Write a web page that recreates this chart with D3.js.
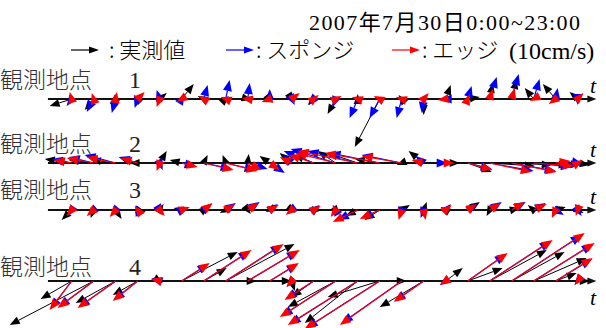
<!DOCTYPE html>
<html><head><meta charset="utf-8">
<script src="https://cdn.jsdelivr.net/npm/d3@7"></script>
<style>body{margin:0;background:#fff}svg{display:block}</style>
</head><body>
<svg id="c" width="606" height="328"></svg>
<script>
// ---- data (cm/s, u = east, v = north), hourly 0:00..23:00 ----
const hours = d3.range(24).map(h => h + ":00");
const stationNames = ["観測地点", "観測地点", "観測地点", "観測地点"];
const stationNums = ["1", "2", "3", "4"];
const seriesNames = ["実測値", "スポンジ", "エッジ"];

const s1Obs = [[-7.9,-2.5],[-3.2,-3.9],[-2.1,-1.8],[-1.4,1.4],[2.5,2.1],[4.3,5.4],[-2.1,1.1],[1.1,1.1],[1.4,-0.4],[1.1,-1.4],[0.7,-1.1],[-2.1,-2.1],[-2.9,-5.4],[0,1.8],[-8.9,-17.1],[-1.1,1.4],[0,-5.7],[1.8,5.0],[4.3,0.7],[1.1,5.7],[1.8,7.1],[-3.2,3.9],[-4.6,5.4],[-2.9,2.5]];
const s1Spg = [[-1.8,-2.5],[-2.5,-4.6],[-1.4,-5.0],[-1.1,-3.2],[-1.1,3.2],[1.1,1.8],[1.4,5.0],[1.4,6.8],[0.7,5.7],[0,3.6],[1.1,-2.1],[-1.8,-2.1],[-1.1,-2.9],[-2.9,-6.8],[-3.6,-6.8],[-1.8,-6.8],[-0.7,-5.0],[-1.8,0],[1.4,4.6],[2.5,7.9],[2.5,8.9],[2.1,7.1],[0.7,3.9],[0,-2.1]];
const s1Edg = [[-0.7,2.5],[-0.7,2.1],[0.4,2.5],[2.5,2.5],[-1.1,-2.9],[-1.8,-1.1],[-1.8,1.1],[-1.8,0.7],[-2.1,0.4],[-2.9,-1.1],[2.9,2.1],[1.8,1.4],[2.1,1.1],[-2.1,0.7],[-2.1,1.1],[-2.1,0.7],[1.8,2.1],[-2.9,-0.4],[0.7,1.8],[1.1,3.6],[1.1,3.9],[-1.4,-0.7],[-2.5,-1.8],[2.1,2.1]];

const s2Obs = [[-9.6,1.4],[-8.9,1.1],[-8.9,1.1],[-2.9,0],[2.5,4.3],[-4.3,1.1],[1.4,2.9],[-1.1,2.9],[0.4,3.2],[-3.6,2.5],[-4.3,3.6],[-7.1,2.9],[-6.4,4.3],[-10.7,3.6],[-8.9,1.4],[-1.8,-0.7],[-5.4,4.3],[5.0,0],[8.6,-3.2],[16.1,-1.1],[14.3,-0.7],[12.5,-0.7],[8.9,-0.7],[4.3,-0.7]];
const s2Spg = [[-7.1,1.4],[-8.9,2.1],[-11.1,2.9],[-6.8,2.1],[1.1,-2.5],[5.0,-1.4],[10.0,-2.1],[10.7,-2.5],[7.1,-2.1],[5.4,-3.6],[-2.9,2.9],[-10.7,4.3],[-16.1,5.0],[-17.9,4.3],[-17.9,3.6],[-14.3,2.9],[-2.9,2.5],[0.7,0],[8.6,-2.1],[15.7,-2.9],[15.7,-2.9],[13.6,-1.4],[7.1,-1.1],[1.8,-0.4]];
const s2Edg = [[-6.4,1.1],[-9.6,1.8],[-10.4,2.1],[-6.1,1.8],[-1.1,-2.9],[5.7,-1.4],[10.7,-2.5],[11.4,-2.9],[5.0,-2.5],[3.6,-2.5],[-4.3,2.1],[-8.9,2.9],[-14.3,3.6],[-21.4,4.3],[-19.6,3.6],[-14.3,2.5],[-4.3,1.1],[3.2,0],[8.9,-2.5],[15.0,-3.2],[16.1,-3.2],[14.3,-1.1],[5.4,0.7],[1.8,1.1]];

const s3Obs = [[-3.6,-3.6],[-1.1,-2.9],[2.1,-3.2],[2.9,-0.7],[1.4,2.1],[-2.9,0.7],[1.8,1.4],[-2.1,-1.1],[1.1,-1.4],[-1.4,-0.7],[1.4,-1.1],[2.9,0],[1.4,-1.8],[-4.3,-2.1],[-5.4,-3.6],[2.9,1.8],[1.1,2.9],[-1.8,1.1],[4.3,2.9],[-1.1,-2.1],[2.9,0.7],[-2.1,1.8],[3.6,1.1],[2.1,-1.1]];
const s3Spg = [[-1.4,-2.1],[-2.1,-1.8],[-1.8,-2.1],[-0.7,1.8],[1.1,-1.8],[2.1,1.1],[2.9,2.1],[3.6,2.5],[4.3,2.9],[2.9,2.1],[-1.8,-1.4],[2.1,1.8],[-1.1,1.8],[-7.1,-3.6],[-6.4,-2.9],[-0.7,-2.9],[-1.1,-2.9],[1.8,2.1],[3.6,2.1],[4.3,2.9],[5.0,2.9],[4.3,2.5],[2.9,-1.8],[1.4,-2.1]];
const s3Edg = [[-1.8,-2.1],[-2.5,-2.1],[-2.1,-2.5],[-1.1,1.4],[1.8,-2.1],[2.9,1.1],[3.2,2.5],[3.2,2.1],[3.9,2.5],[3.2,1.8],[-2.1,-1.8],[2.5,1.4],[-1.8,-2.5],[-8.9,-4.3],[-7.1,-3.2],[-1.1,-3.6],[0.7,-3.6],[2.1,1.8],[3.2,2.1],[3.9,2.5],[4.6,2.9],[4.6,2.1],[-1.4,-2.9],[-0.7,-2.1]];

const s4Obs = [[-11.1,-6.4],[-30.0,-15.7],[-14.3,-7.9],[-8.9,-5.0],[1.1,-0.7],[20.0,10.4],[8.2,4.6],[24.6,13.2],[3.2,0],[7.9,0],[1.1,-3.6],[-7.9,-5.7],[-17.1,-9.3],[-18.9,-15.0],[-18.6,-5.7],[1.8,0],[-15.7,-9.3],[6.1,4.6],[12.5,4.6],[20.4,11.1],[18.9,10.4],[18.9,8.2],[7.5,2.9],[4.3,0]];
const s4Spg = [[-7.5,-10.0],[-12.5,-9.3],[-13.2,-9.3],[-8.6,-6.8],[-2.9,1.1],[9.6,6.1],[16.4,10.7],[20.0,12.9],[17.9,10.7],[10.0,6.1],[-1.8,-2.1],[-10.0,-6.4],[-19.3,-12.5],[-24.3,-15.4],[-26.1,-16.8],[-21.4,-15.0],[-10.4,-7.1],[-2.1,-1.4],[13.6,9.6],[21.8,14.3],[25.0,16.4],[21.1,13.2],[12.9,7.9],[-1.1,-1.4]];
const s4Edg = [[-7.9,-10.4],[-12.9,-9.6],[-13.6,-9.6],[-8.9,-7.1],[-3.2,0.7],[10.0,6.4],[17.1,11.1],[20.7,13.2],[18.6,11.1],[10.4,6.4],[-1.8,-2.1],[-10.4,-6.8],[-20.0,-12.9],[-25.0,-15.7],[-26.8,-17.1],[-22.1,-15.7],[-10.7,-7.5],[-2.1,-1.4],[14.3,10.0],[22.5,14.6],[26.1,17.1],[21.8,13.6],[13.2,8.2],[-1.1,-1.4]];

const stationData = [
  [s1Obs, s1Spg, s1Edg],
  [s2Obs, s2Spg, s2Edg],
  [s3Obs, s3Spg, s3Edg],
  [s4Obs, s4Spg, s4Edg]
];
const refSpeed = 10; // cm/s legend arrow

// ---- layout ----
const svg = d3.select("#c");
const colors = ["#000000", "#0000ff", "#ff0000"];
const axisY = [99, 163, 210, 281];
const x = d3.scaleLinear().domain([-1, 24]).range([49.7, 599.7]);
const k = d3.scaleLinear().domain([0, refSpeed]).range([0, 28]);
const serif = "'Liberation Serif','Times New Roman',serif";
const jp = "'Noto Sans CJK JP','Noto Sans',sans-serif";

function arrow(g, x0, y0, x1, y1, color, lw, L, W) {
  const dx = x1 - x0, dy = y1 - y0, len = Math.hypot(dx, dy);
  if (len < 0.01) return;
  const ux = dx / len, uy = dy / len;
  const bx = x1 - ux * L, by = y1 - uy * L;
  if (len > L) {
    g.append("line").attr("x1", x0).attr("y1", y0).attr("x2", bx).attr("y2", by)
      .attr("stroke", color).attr("stroke-width", lw);
  }
  g.append("path")
    .attr("d", `M${x1},${y1}L${bx - uy * W},${by + ux * W}L${bx + uy * W},${by - ux * W}Z`)
    .attr("fill", color);
}

// axes
axisY.forEach((ay, i) => {
  const g = svg.append("g");
  g.append("line").attr("x1", x(-1.08)).attr("x2", x(23.55)).attr("y1", ay).attr("y2", ay)
    .attr("stroke", "#111").attr("stroke-width", 2);
  arrow(g, x(23.3), ay, x(23.85), ay, "#111", 2, 9, 3.5);
  g.append("text").attr("x", 590).attr("y", i === 3 ? ay + 24 : ay - 6)
    .attr("font-family", serif).attr("font-style", "italic").attr("font-size", 22).text("t");
});

// vectors
stationData.forEach((series, si) => {
  const g = svg.append("g");
  series.forEach((vals, ci) => {
    vals.forEach((d, h) => {
      const x0 = x(h), y0 = axisY[si];
      const x1 = x0 + k(d[0]), y1 = y0 - k(d[1]);
      arrow(g, x0, y0, x1, y1, colors[ci], ci === 0 ? 1 : 1.2, ci === 0 ? 10 : 11, ci === 0 ? 4 : 4.5);
    });
  });
});

// station labels
axisY.forEach((ay, i) => {
  const ly = [88, 152, 198, 275][i];
  svg.append("text").attr("x", 0).attr("y", ly).attr("font-family", jp).attr("font-size", 23)
    .attr("font-weight", 300).attr("fill", "#333").text(stationNames[i]);
  svg.append("text").attr("x", 129).attr("y", ly).attr("font-family", serif).attr("font-size", 24)
    .attr("fill", "#222").text(stationNums[i]);
});

// title
svg.append("text").attr("x", 309).attr("y", 30).attr("font-family", serif + ",'Noto Sans CJK JP'")
  .attr("font-size", 22).attr("textLength", 271).attr("lengthAdjust", "spacing")
  .text("2007年7月30日0:00~23:00");

// legend
const legY = 50;
const legX = [71, 226, 392];
seriesNames.forEach((name, i) => {
  const g = svg.append("g");
  arrow(g, legX[i], legY, legX[i] + k(refSpeed), legY, colors[i], 1.2, 10, 3.5);
  g.append("text").attr("x", legX[i] + k(refSpeed) + (i === 0 ? 10 : 2)).attr("y", legY + 8)
    .attr("font-family", jp).attr("font-size", 22).attr("font-weight", 300).text(": " + name);
});
svg.append("text").attr("x", 509).attr("y", legY + 9).attr("font-family", serif)
  .attr("font-size", 24).text("(" + refSpeed + "cm/s)");
</script>
</body></html>
